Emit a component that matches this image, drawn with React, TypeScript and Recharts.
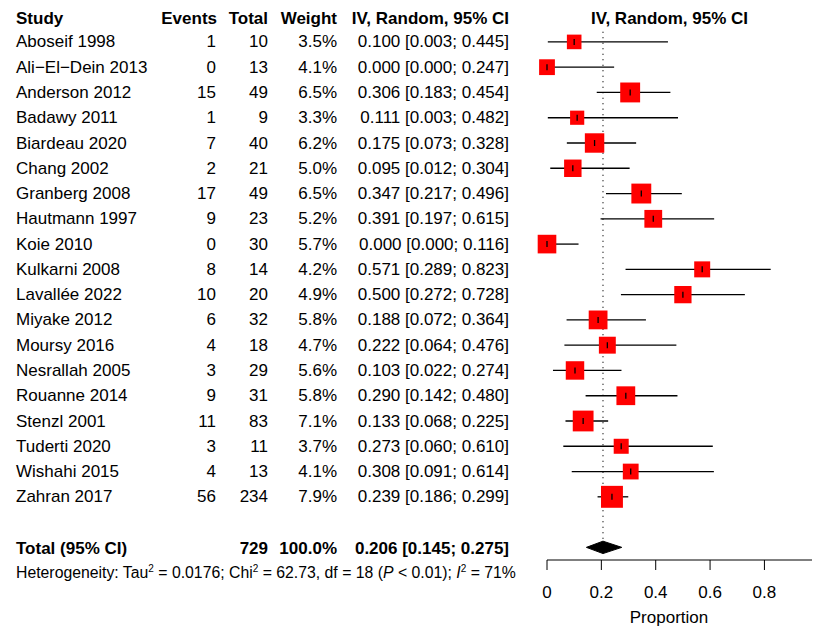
import { ErrorBar, ReferenceLine, Scatter, ScatterChart, XAxis, YAxis } from 'recharts'

const studies = [
	'Aboseif 1998',
	'Ali−El−Dein 2013',
	'Anderson 2012',
	'Badawy 2011',
	'Biardeau 2020',
	'Chang 2002',
	'Granberg 2008',
	'Hautmann 1997',
	'Koie 2010',
	'Kulkarni 2008',
	'Lavallée 2022',
	'Miyake 2012',
	'Moursy 2016',
	'Nesrallah 2005',
	'Rouanne 2014',
	'Stenzl 2001',
	'Tuderti 2020',
	'Wishahi 2015',
	'Zahran 2017',
]
const events = [1, 0, 15, 1, 7, 2, 17, 9, 0, 8, 10, 6, 4, 3, 9, 11, 3, 4, 56]
const totals = [10, 13, 49, 9, 40, 21, 49, 23, 30, 14, 20, 32, 18, 29, 31, 83, 11, 13, 234]
const weights = [3.5, 4.1, 6.5, 3.3, 6.2, 5.0, 6.5, 5.2, 5.7, 4.2, 4.9, 5.8, 4.7, 5.6, 5.8, 7.1, 3.7, 4.1, 7.9]
const estimates = [0.1, 0.0, 0.306, 0.111, 0.175, 0.095, 0.347, 0.391, 0.0, 0.571, 0.5, 0.188, 0.222, 0.103, 0.29, 0.133, 0.273, 0.308, 0.239]
const lowerCI = [0.003, 0.0, 0.183, 0.003, 0.073, 0.012, 0.217, 0.197, 0.0, 0.289, 0.272, 0.072, 0.064, 0.022, 0.142, 0.068, 0.06, 0.091, 0.186]
const upperCI = [0.445, 0.247, 0.454, 0.482, 0.328, 0.304, 0.496, 0.615, 0.116, 0.823, 0.728, 0.364, 0.476, 0.274, 0.48, 0.225, 0.61, 0.614, 0.299]

const pooledTotal = 729
const pooledWeight = 100.0
const pooledEst = 0.206
const pooledLower = 0.145
const pooledUpper = 0.275

const xTicks = [0, 0.2, 0.4, 0.6, 0.8]

// row index on the y axis: -1 header, 0..18 studies, 20 total, 21 heterogeneity
const HEADER_ROW = -1
const TOTAL_ROW = 20
const HET_ROW = 21
const rowTicks = [HEADER_ROW, ...studies.map((_, i) => i), TOTAL_ROW, HET_ROW]

const FONT = '"Liberation Sans", Arial, Helvetica, sans-serif'

const fmt3 = (v: number) => v.toFixed(3)
const ciText = (e: number, lo: number, hi: number) => `${fmt3(e)} [${fmt3(lo)}; ${fmt3(hi)}]`

const studyPoints = studies.map((name, i) => ({
	name,
	x: estimates[i],
	y: i,
	w: weights[i],
	err: [estimates[i] - lowerCI[i], upperCI[i] - estimates[i]],
}))

const diamondPoints = [
	{ x: pooledLower, y: TOTAL_ROW },
	{ x: pooledEst, y: TOTAL_ROW - 0.245 },
	{ x: pooledUpper, y: TOTAL_ROW },
	{ x: pooledEst, y: TOTAL_ROW + 0.245 },
]

// column right edges
const COL = { study: 16, events: 216, total: 268, weight: 337, ci: 509, right: 669.5 }

const RowLabel = (props: any) => {
	const { y, payload } = props
	const r = payload.value
	if (r === HEADER_ROW) {
		const by = y + 7.5
		return (
			<g fontFamily={FONT} fontSize={17} fontWeight='bold' fill='#000'>
				<text x={COL.study} y={by}>Study</text>
				<text x={COL.events + 1} y={by} textAnchor='end'>Events</text>
				<text x={COL.total} y={by} textAnchor='end'>Total</text>
				<text x={COL.weight} y={by} textAnchor='end'>Weight</text>
				<text x={COL.ci} y={by} textAnchor='end'>IV, Random, 95% CI</text>
				<text x={COL.right} y={by} textAnchor='middle'>IV, Random, 95% CI</text>
			</g>
		)
	}
	if (r === TOTAL_ROW) {
		const by = y + 6.5
		return (
			<g fontFamily={FONT} fontSize={17} fontWeight='bold' fill='#000'>
				<text x={COL.study} y={by}>Total (95% CI)</text>
				<text x={COL.total} y={by} textAnchor='end'>{pooledTotal}</text>
				<text x={COL.weight} y={by} textAnchor='end'>{pooledWeight.toFixed(1)}%</text>
				<text x={COL.ci} y={by} textAnchor='end'>{ciText(pooledEst, pooledLower, pooledUpper)}</text>
			</g>
		)
	}
	if (r === HET_ROW) {
		const by = y + 5
		return (
			<text x={COL.study} y={by} fontFamily={FONT} fontSize={15.8} fill='#000'>
				Heterogeneity: Tau
				<tspan dy={-6} fontSize={10}>2</tspan>
				<tspan dy={6}> = 0.0176; Chi</tspan>
				<tspan dy={-6} fontSize={10}>2</tspan>
				<tspan dy={6}> = 62.73, df = 18 (</tspan>
				<tspan fontStyle='italic'>P</tspan>
				<tspan> &lt; 0.01); </tspan>
				<tspan fontStyle='italic'>I</tspan>
				<tspan dy={-6} fontSize={10}>2</tspan>
				<tspan dy={6}> = 71%</tspan>
			</text>
		)
	}
	const i = r as number
	const by = y + 5.5
	return (
		<g fontFamily={FONT} fontSize={17} fill='#000'>
			<text x={COL.study} y={by}>{studies[i]}</text>
			<text x={COL.events} y={by} textAnchor='end'>{events[i]}</text>
			<text x={COL.total} y={by} textAnchor='end'>{totals[i]}</text>
			<text x={COL.weight} y={by} textAnchor='end'>{weights[i].toFixed(1)}%</text>
			<text x={COL.ci} y={by} textAnchor='end'>{ciText(estimates[i], lowerCI[i], upperCI[i])}</text>
		</g>
	)
}

const WeightSquare = (props: any) => {
	const { cx, cy, payload } = props
	const s = 7.8 * Math.sqrt(payload.w)
	return <rect x={cx - s / 2} y={cy - s / 2} width={s} height={s} fill='#ff0000' />
}

const EstTick = (props: any) => {
	const { cx, cy } = props
	return <line x1={cx} x2={cx} y1={cy - 3} y2={cy + 3} stroke='#000' strokeWidth={1.3} />
}

const Diamond = (props: any) => {
	const pts = props.points || []
	if (!pts.length) return <g />
	const d = pts.map((p: any, k: number) => `${k ? 'L' : 'M'}${p.x},${p.y}`).join(' ') + ' Z'
	return <path d={d} fill='#000' stroke='#000' strokeWidth={1} />
}

const App = () => {
	return (
		<div style={{ position: 'absolute', left: 0, top: 0, width: 813, height: 627, background: '#fff' }}>
			<ScatterChart
				width={813}
				height={627}
				margin={{ top: 4, right: 1, left: 0, bottom: 10 }}
				style={{ fontFamily: FONT }}
			>
				<XAxis
					type='number'
					dataKey='x'
					domain={[0, 0.975]}
					ticks={xTicks}
					tickSize={10}
					tickMargin={16}
					height={57}
					stroke='#000'
					tick={{ fontSize: 17, fill: '#000', fontFamily: FONT }}
					label={({ viewBox }: any) => (
						<text
							x={viewBox.x + 122}
							y={viewBox.y + viewBox.height + 6}
							textAnchor='middle'
							fontFamily={FONT}
							fontSize={17}
							fill='#000'
						>
							Proportion
						</text>
					)}
				/>
				<YAxis
					type='number'
					dataKey='y'
					domain={[-1.5, 20.5]}
					reversed
					ticks={rowTicks}
					interval={0}
					width={547}
					axisLine={false}
					tickLine={false}
					tick={<RowLabel />}
				/>
				<ReferenceLine
					segment={[
						{ x: pooledEst, y: -0.4 },
						{ x: pooledEst, y: TOTAL_ROW - 0.25 },
					]}
					stroke='#000'
					strokeWidth={1.2}
					strokeDasharray='1 4.5'
					ifOverflow='visible'
				/>
				<Scatter data={studyPoints} shape={<WeightSquare />} isAnimationActive={false} />
				<Scatter data={studyPoints} shape={<EstTick />} isAnimationActive={false}>
					<ErrorBar
						dataKey='err'
						direction='x'
						width={0}
						stroke='#000'
						strokeWidth={1.3}
						isAnimationActive={false}
					/>
				</Scatter>
				<Scatter
					data={diamondPoints}
					shape={() => <g />}
					line={(p: any) => <Diamond {...p} />}
					isAnimationActive={false}
				/>
			</ScatterChart>
		</div>
	)
}

export default App
